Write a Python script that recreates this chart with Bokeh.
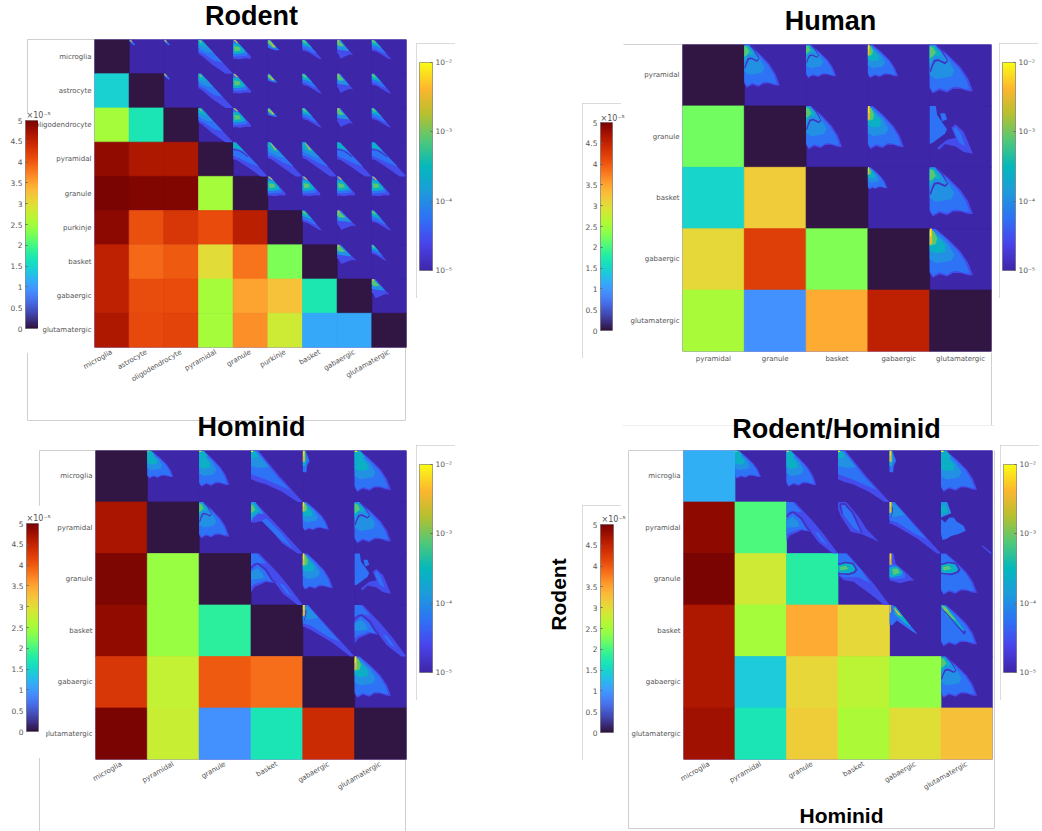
import math
import numpy as np
from bokeh.core.properties import value
from bokeh.embed import file_html
from bokeh.layouts import column
from bokeh.models import ColumnDataSource, FixedTicker, LinearColorMapper, Range1d
from bokeh.palettes import Turbo256
from bokeh.plotting import figure
from bokeh.resources import INLINE

# ---------- data: labels ----------
RODENT_LABELS = ["microglia", "astrocyte", "oligodendrocyte", "pyramidal", "granule",
                 "purkinje", "basket", "gabaergic", "glutamatergic"]
HUMAN_LABELS = ["pyramidal", "granule", "basket", "gabaergic", "glutamatergic"]
HOMINID_LABELS = ["microglia", "pyramidal", "granule", "basket", "gabaergic", "glutamatergic"]

# ---------- data: lower triangle values (x 1e-5) ----------
RODENT_VALUES = [
    [0.03],
    [1.45, 0.03],
    [2.50, 1.68, 0.03],
    [4.85, 4.65, 4.65, 0.03],
    [5.00, 4.95, 4.95, 2.50, 0.03],
    [4.90, 4.07, 4.30, 4.12, 4.57, 0.03],
    [4.55, 3.89, 4.00, 3.00, 3.82, 2.27, 0.03],
    [4.55, 4.10, 4.12, 2.50, 3.50, 3.25, 1.70, 0.03],
    [4.65, 4.13, 4.17, 2.50, 3.65, 2.82, 1.10, 1.10, 0.03],
]
HUMAN_VALUES = [
    [0.03],
    [2.22, 0.03],
    [1.50, 3.17, 0.03],
    [3.03, 4.22, 2.30, 0.03],
    [2.55, 0.93, 3.45, 4.55, 0.03],
]
HOMINID_VALUES = [
    [0.03],
    [4.70, 0.03],
    [4.97, 2.43, 0.03],
    [4.85, 2.43, 1.85, 0.03],
    [4.30, 2.75, 4.00, 3.85, 0.03],
    [5.00, 2.78, 0.93, 1.68, 4.42, 0.03],
]
CROSS_VALUES = [
    [1.17],
    [4.87, 2.05],
    [5.00, 2.85, 1.80],
    [4.65, 2.50, 3.45, 3.03],
    [4.65, 1.40, 3.05, 2.68, 2.40],
    [4.75, 1.68, 3.15, 2.56, 2.97, 3.28],
]

# ---------- data: density outlines inside a cell, (log10 level, outline) ----------
B, M, C, T, G, O, Y, D = -4.55, -4.25, -3.98, -3.6, -3.1, -2.5, -2.1, -4.85

TINY = [(M, [(0, 0), (.05, 0), (.18, .16), (.13, .17), (0, .05)]),
        (O, [(0, 0), (.04, 0), (.1, .08), (.07, .08)])]
LONG = [(B, [(0, 0), (.08, 0), (1, 1), (.78, 1), (.4, .74), (.12, .5), (0, .42)]),
        (M, [(0, 0), (.08, 0), (.7, .68), (.45, .62), (.15, .42), (0, .36)]),
        (C, [(0, 0), (.08, 0), (.42, .38), (.25, .38), (.08, .3), (0, .25)]),
        (T, [(0, 0), (.06, 0), (.25, .22), (.1, .2), (0, .15)]),
        (O, [(.01, .01), (.05, .03), (.1, .1), (.07, .1)])]
LONG_BRIGHT = [(B, [(0, 0), (.08, 0), (1, 1), (.8, 1), (.4, .72), (.1, .5), (0, .46)]),
               (M, [(0, 0), (.08, 0), (.75, .72), (.5, .62), (.12, .42), (0, .38)]),
               (C, [(0, 0), (.08, 0), (.5, .46), (.3, .42), (.05, .3), (0, .26)]),
               (T, [(0, 0), (.08, .02), (.32, .3), (.15, .26), (0, .15)]),
               (O, [(.06, .02), (.1, .04), (.26, .24), (.2, .22)])]
LONG_CUT = [(B, [(0, 0), (.08, 0), (1, 1), (.8, 1), (.4, .72), (.1, .52), (0, .5)]),
            (M, [(0, 0), (.08, 0), (.75, .72), (.5, .62), (.12, .45), (0, .4)]),
            (T, [(0, 0), (.08, .02), (.3, .24), (.15, .2), (0, .16)]),
            (D, [(0, .2), (.15, .22), (.3, .3), (.45, .42), (.43, .44), (.28, .33), (.15, .25), (0, .23)])]
BLOB = [(B, [(0, 0), (.06, 0), (.52, .5), (.5, .56), (.35, .55), (.2, .58), (.05, .56), (0, .58)]),
        (M, [(0, 0), (.06, 0), (.42, .42), (.38, .48), (.1, .5), (0, .5)]),
        (T, [(0, .12), (.15, .12), (.3, .28), (.35, .38), (.15, .42), (0, .42)]),
        (G, [(.02, .2), (.18, .22), (.22, .32), (.05, .35)]),
        (O, [(0, 0), (.05, .01), (.15, .1), (.1, .1)])]
WEDGE = [(M, [(0, 0), (.05, 0), (.28, .26), (.18, .26), (0, .2)]),
         (G, [(0, .02), (.05, .02), (.2, .2), (.12, .2), (0, .1)]),
         (O, [(.03, .03), (.06, .05), (.18, .18), (.14, .18)])]
MID = [(B, [(0, 0), (.07, 0), (.56, .58), (.48, .56), (.15, .36), (0, .32)]),
       (M, [(0, 0), (.07, 0), (.42, .42), (.3, .38), (.1, .28), (0, .26)]),
       (T, [(0, 0), (.07, .02), (.28, .25), (.14, .2), (0, .16)]),
       (G, [(0, 0), (.05, .02), (.14, .12), (.05, .1), (0, .05)])]
MID_FRAY = [(B, [(0, 0), (.08, 0), (.46, .46), (.36, .44), (.22, .5), (.1, .56), (.03, .42), (0, .4)]),
            (C, [(0, 0), (.08, 0), (.35, .34), (.2, .32), (.05, .3), (0, .28)]),
            (G, [(0, .03), (.07, .05), (.2, .2), (.06, .2), (0, .15)]),
            (O, [(0, 0), (.04, 0), (.07, .06), (.03, .06)])]

FAN_OUT = [(0, 0), (.1, 0), (.3, .17), (.5, .37), (.62, .55), (.7, .76), (.62, .76), (.5, .72),
           (.38, .72), (.28, .78), (.16, .74), (.05, .8), (0, .72)]
FAN_MID = [(0, .01), (.09, .01), (.29, .19), (.47, .38), (.58, .55), (.65, .73), (.56, .72), (.45, .69),
           (.38, .69), (.28, .75), (.16, .71), (.05, .77), (0, .69)]
FAN_CORE = [(0, .03), (.1, .06), (.3, .25), (.4, .42), (.35, .52), (.2, .55), (.1, .56), (0, .5)]
FAN_HOT = [(0, .06), (.08, .07), (.25, .27), (.25, .38), (.1, .4), (0, .36)]
CURVE = [(0, .43), (.03, .34), (.07, .25), (.14, .24), (.25, .29), (.28, .26), (.18, .1), (.1, .02),
         (.115, .015), (.2, .09), (.3, .27), (.25, .32), (.14, .27), (.09, .28), (.05, .36), (.02, .45)]

FAN_STRIP = [(B, FAN_OUT), (M, FAN_MID), (C, FAN_CORE), (T, FAN_HOT),
             (G, [(0, .03), (.07, .04), (.12, .15), (.1, .25), (0, .28)]),
             (O, [(0, 0), (.04, 0), (.04, .24), (0, .26)]),
             (Y, [(.005, 0), (.025, 0), (.025, .12), (.005, .13)])]
FAN_TIP = [(B, FAN_OUT), (M, FAN_MID), (C, FAN_CORE), (T, FAN_HOT),
           (T, [(0, 0), (.1, 0), (.2, .12), (0, .2)]),
           (Y, [(0, 0), (.05, 0), (.05, .03), (0, .03)])]
FAN_LINE = [(B, FAN_OUT), (M, FAN_MID), (C, FAN_CORE),
            (C, [(0, 0), (.08, 0), (.22, .14), (.25, .24), (.12, .2), (.05, .28), (0, .36)]),
            (T, [(0, .02), (.07, .03), (.17, .14), (.16, .2), (.08, .18), (.03, .26), (0, .3)]),
            (G, [(0, .03), (.06, .05), (.1, .14), (.04, .2), (0, .22)]),
            (D, CURVE)]
BROKEN = [(M, [(0, 0), (.1, 0), (.12, .15), (.28, .38), (.25, .45), (.05, .6), (0, .62)]),
          (M, [(.17, .12), (.25, .12), (.28, .22), (.2, .25)]),
          (B, [(.35, .35), (.42, .3), (.55, .42), (.7, .78), (.55, .75), (.42, .66), (.25, .62),
               (.15, .72), (.12, .68), (.28, .55), (.42, .52)]),
          (M, [(.38, .38), (.42, .34), (.5, .44), (.58, .66), (.48, .6), (.42, .48)])]
LONG_WIDE = [(B, [(0, 0), (.14, 0), (.55, .5), (1, 1), (.9, 1), (.6, .8), (.3, .66), (.1, .6), (0, .56)]),
             (M, [(0, 0), (.12, 0), (.5, .5), (.75, .76), (.55, .68), (.25, .55), (0, .46)]),
             (C, [(0, 0), (.1, .02), (.35, .32), (.15, .34), (0, .3)]),
             (T, [(0, 0), (.07, 0), (.14, .12), (0, .16)]),
             (Y, [(0, 0), (.04, 0), (.04, .03), (0, .03)])]
STRIP = [(M, [(0, 0), (.05, 0), (.1, .12), (.13, .2), (.08, .3), (.07, .42), (0, .42)]),
         (T, [(0, 0), (.05, 0), (.07, .2), (.04, .3), (0, .3)]),
         (O, [(0, 0), (.04, 0), (.04, .22), (0, .22)]),
         (Y, [(.01, 0), (.025, 0), (.025, .1), (.01, .1)])]
LONG_LINE = [(B, [(0, 0), (.08, 0), (.55, .5), (1, 1), (.9, 1), (.6, .8), (.25, .36), (.1, .4), (0, .4)]),
             (M, [(.2, .36), (.3, .32), (.6, .62), (.8, .9), (.55, .72)]),
             (C, [(0, 0), (.08, 0), (.25, .24), (.15, .22), (.05, .3), (0, .38)]),
             (T, [(0, .02), (.06, .03), (.16, .18), (.06, .24), (0, .32)]),
             (G, [(0, .05), (.05, .07), (.08, .16), (0, .22)])]
LONG_STRIP = [(B, [(0, 0), (.1, 0), (.55, .5), (1, 1), (.92, 1), (.55, .72), (.15, .48), (.03, .42), (0, .42)]),
              (M, [(0, 0), (.1, 0), (.5, .48), (.72, .72), (.5, .62), (.15, .4), (0, .36)]),
              (C, [(0, 0), (.1, .04), (.3, .25), (.12, .28), (0, .28)]),
              (O, [(0, 0), (.04, 0), (.04, .2), (0, .22)]),
              (Y, [(.01, 0), (.025, 0), (.025, .08), (.01, .09)]),
              (D, [(.05, .1), (.07, .1), (.06, .22), (.03, .3), (.02, .29), (.045, .22)])]
ARCH = [(B, [(0, 0), (.16, 0), (.5, .36), (.72, .62), (1, 1), (.9, 1), (.62, .78), (.47, .58),
             (.3, .55), (.18, .6), (.07, .65), (0, .75)]),
        (M, [(0, 0), (.12, 0), (.3, .2), (.1, .18), (0, .24)]),
        (M, [(0, .32), (.12, .22), (.28, .32), (.4, .56), (.28, .52), (.18, .56), (.05, .6), (0, .65)]),
        (M, [(.55, .58), (.62, .6), (.8, .84), (.68, .76)]),
        (C, [(0, .36), (.12, .28), (.22, .38), (.25, .48), (.05, .5), (0, .5)]),
        (D, [(0, .26), (.06, .2), (.14, .18), (.3, .3), (.42, .5), (.48, .56), (.46, .58), (.38, .5),
             (.27, .33), (.13, .21), (.05, .24), (0, .3)])]
LOOP = [(B, [(0, 0), (.16, 0), (.4, .28), (.55, .52), (.8, .78), (.68, .72), (.45, .62), (.25, .58), (.06, .28), (0, .14)]),
        (M, [(.03, .04), (.14, .04), (.25, .15), (.35, .38), (.48, .6), (.3, .5), (.1, .24)]),
        (D, [(.03, .03), (.14, .02), (.3, .2), (.48, .6), (.45, .6), (.27, .22), (.13, .06), (.06, .06), (.1, .24),
             (.08, .24), (.03, .1)])]
HOOK = [(C, [(0, 0), (.12, 0), (.2, .22), (0, .3)]),
        (T, [(0, .05), (.08, .06), (.14, .2), (0, .25)]),
        (M, [(0, .33), (.08, .4), (.16, .3), (.25, .3), (.3, .38), (.44, .46), (.48, .56), (.34, .62),
             (.2, .66), (.1, .72), (.03, .74), (0, .62)]),
        (B, [(.78, .85), (.82, .85), (1, 1), (.95, 1)])]
ARCH_RING = [(B, [(0, 0), (.18, 0), (.5, .36), (.72, .62), (1, 1), (.9, 1), (.62, .78), (.3, .55), (.12, .52), (0, .42)]),
             (M, [(0, 0), (.16, 0), (.45, .32), (.62, .58), (.4, .46), (.1, .46), (0, .36)]),
             (T, [(0, .22), (.15, .18), (.3, .22), (.34, .34), (.22, .38), (.05, .38), (0, .34)]),
             (G, [(.03, .26), (.15, .24), (.2, .3), (.05, .33)]),
             (D, [(0, .2), (.15, .16), (.3, .18), (.38, .32), (.33, .38), (.2, .42), (0, .4), (0, .38), (.2, .39),
                  (.31, .35), (.34, .3), (.28, .21), (.15, .19), (0, .23)])]
BLOB_STRIP = [(B, [(0, 0), (.08, 0), (.12, .2), (.3, .35), (.48, .52), (.35, .54), (.2, .58), (0, .52)]),
              (M, [(0, .2), (.1, .22), (.3, .4), (.3, .48), (.1, .5), (0, .48)]),
              (T, [(0, .27), (.15, .25), (.26, .36), (.22, .42), (.05, .46), (0, .45)]),
              (G, [(.05, .3), (.15, .29), (.2, .37), (.08, .42)]),
              (O, [(0, 0), (.04, 0), (.04, .22), (0, .22)]),
              (Y, [(.01, 0), (.025, 0), (.025, .1), (.01, .1)])]
ARCH_FAN = [(B, FAN_OUT), (M, FAN_MID),
            (T, [(0, .22), (.15, .18), (.28, .22), (.34, .34), (.22, .38), (.05, .38), (0, .34)]),
            (G, [(.03, .26), (.15, .24), (.2, .3), (.05, .33)]),
            (D, [(0, .2), (.15, .16), (.3, .18), (.38, .32), (.33, .38), (.2, .42), (0, .4), (0, .38), (.2, .39),
                 (.31, .35), (.34, .3), (.28, .21), (.15, .19), (0, .23)])]
NEEDLE = [(M, [(0, 0), (.07, 0), (.55, .57), (.45, .52), (.14, .3), (.05, .4), (0, .38)]),
          (T, [(.08, .03), (.12, .03), (.42, .42), (.28, .34), (.1, .18)]),
          (O, [(.08, .06), (.11, .07), (.25, .24), (.16, .18)]),
          (O, [(0, 0), (.03, 0), (.03, .14), (0, .16)])]
NEEDLE_FAN = [(B, FAN_OUT), (M, FAN_MID),
              (T, [(0, 0), (.1, .02), (.46, .5), (.38, .46), (.1, .2)]),
              (G, [(.01, .01), (.08, .04), (.3, .3), (.2, .26), (.05, .1)]),
              (O, [(.02, .01), (.07, .05), (.16, .14), (.1, .1)]),
              (D, [(0, .05), (.02, .08), (.45, .58), (.47, .56), (.48, .5), (.44, .5), (.44, .53), (.1, .14)])]

SHAPES = dict(tiny=TINY, long=LONG, long_bright=LONG_BRIGHT, long_cut=LONG_CUT, blob=BLOB, wedge=WEDGE,
              mid=MID, fray=MID_FRAY, fan_strip=FAN_STRIP, fan_tip=FAN_TIP, fan_line=FAN_LINE,
              broken=BROKEN, long_wide=LONG_WIDE, strip=STRIP, long_line=LONG_LINE, long_strip=LONG_STRIP,
              arch=ARCH, loop=LOOP, hook=HOOK, arch_ring=ARCH_RING, blob_strip=BLOB_STRIP,
              arch_fan=ARCH_FAN, needle=NEEDLE, needle_fan=NEEDLE_FAN)

# ---------- data: which outline sits in which upper cell: (row, col, shape, width, height) ----------
RODENT_CELLS = [
    (0, 1, "tiny", 1, 1), (0, 2, "tiny", 1, 1), (0, 3, "long", 1, 1), (0, 4, "blob", 1, 1),
    (0, 5, "wedge", 1.2, 1.2), (0, 6, "mid", 1, 1), (0, 7, "fray", 1, 1), (0, 8, "mid", 1, 1),
    (1, 2, "tiny", 1, 1), (1, 3, "long", 1, 1), (1, 4, "blob", 1, 1), (1, 5, "wedge", 1, 1),
    (1, 6, "mid", 1, 1), (1, 7, "fray", 1, 1), (1, 8, "mid", 1, 1),
    (2, 3, "long", 1, 1), (2, 4, "blob", 1, 1), (2, 5, "wedge", 1, 1), (2, 6, "mid", 1, 1),
    (2, 7, "fray", 1, 1), (2, 8, "mid", 1, 1),
    (3, 4, "long_cut", 1, 1), (3, 5, "long_bright", 1, 1), (3, 6, "long_bright", 1, 1),
    (3, 7, "long_cut", 1, 1), (3, 8, "long_cut", 1, 1),
    (4, 5, "blob", 1, 1), (4, 6, "blob", 1, 1), (4, 7, "blob", 1, 1), (4, 8, "blob", 1, 1),
    (5, 6, "mid", 1, 1), (5, 7, "fray", 1.2, 1), (5, 8, "mid", 1, 1),
    (6, 7, "fray", 1.2, 1), (6, 8, "mid", .75, .8),
    (7, 8, "fray", 1.1, 1),
]
HUMAN_CELLS = [
    (0, 1, "fan_line", .82, .88), (0, 2, "fan_line", .7, .68), (0, 3, "fan_strip", .7, .68), (0, 4, "fan_line", 1, 1),
    (1, 2, "fan_line", .83, .88), (1, 3, "fan_strip", .83, .88), (1, 4, "broken", 1, 1),
    (2, 3, "fan_strip", .45, .45), (2, 4, "fan_line", 1, 1),
    (3, 4, "fan_strip", 1, 1),
]
HOMINID_CELLS = [
    (0, 1, "fan_tip", .72, .68), (0, 2, "fan_tip", .83, .88), (0, 3, "long_wide", 1, 1), (0, 4, "strip", 1, 1),
    (0, 5, "fan_tip", 1, 1),
    (1, 2, "fan_line", .83, .88), (1, 3, "long_line", 1, 1), (1, 4, "fan_strip", .72, .7), (1, 5, "fan_line", 1, 1),
    (2, 3, "arch", 1, 1), (2, 4, "fan_strip", .83, .88), (2, 5, "broken", 1, 1),
    (3, 4, "long_strip", 1, 1), (3, 5, "arch", 1, 1),
    (4, 5, "fan_strip", 1, 1),
]
CROSS_CELLS = [
    (0, 1, "fan_tip", .72, .68), (0, 2, "fan_tip", .83, .88), (0, 3, "long_wide", 1, 1), (0, 4, "strip", 1, 1),
    (0, 5, "fan_tip", 1, 1),
    (1, 2, "arch", 1, 1), (1, 3, "loop", 1, 1), (1, 4, "long_strip", 1, 1), (1, 5, "hook", 1, 1),
    (2, 3, "arch_ring", 1, 1), (2, 4, "blob_strip", 1, 1), (2, 5, "arch_fan", 1, 1),
    (3, 4, "needle", 1, 1), (3, 5, "needle_fan", 1, 1),
    (4, 5, "fan_line", 1, 1),
]

LINEAR_TICKS = [0, .5, 1, 1.5, 2, 2.5, 3, 3.5, 4, 4.5, 5]
LINEAR_LABELS = ["0", "0.5", "1", "1.5", "2", "2.5", "3", "3.5", "4", "4.5", "5"]
LOG_TICKS = [-5, -4, -3, -2]
LOG_LABELS = ["10⁻⁵", "10⁻⁴", "10⁻³", "10⁻²"]

# ---------- colour scales ----------
PARULA_STOPS = ["#3e26a8", "#4a43ea", "#2e72f5", "#1e9bdc", "#05b8bc", "#50c878", "#b5c030", "#fdb62e", "#f9fb15"]


def ramp(stops, n=256):
    rgb = np.array([[int(s[i:i + 2], 16) for i in (1, 3, 5)] for s in stops], dtype=float)
    t = np.linspace(0, len(stops) - 1, n)
    chan = [np.interp(t, np.arange(len(stops)), rgb[:, k]) for k in range(3)]
    return ["#%02x%02x%02x" % (round(a), round(b), round(c)) for a, b, c in zip(*chan)]


PARULA = ramp(PARULA_STOPS)
linear_mapper = LinearColorMapper(palette=Turbo256, low=0, high=5)
log_mapper = LinearColorMapper(palette=PARULA, low=-5, high=-2)

FONT = "DejaVu Sans"
TEXT = "#555555"
RULE = "#cfcfcf"
FAINT = "#efefef"


def place(fig, x, y, z):
    fig.styles = {"position": "absolute", "left": f"{x}px", "top": f"{y}px", "z-index": str(z)}
    return fig


def heatmap(ylabels, xlabels, values, cells, px, py, pw, ph, rotate, z, left=76, bottom=70):
    n = len(values)
    p = figure(width=pw + left + 2, height=ph + bottom + 1, x_range=Range1d(0, n), y_range=Range1d(n, 0),
               output_backend="svg", toolbar_location=None, min_border_left=left, min_border_right=2,
               min_border_top=1, min_border_bottom=bottom, outline_line_color=None, frame_align=False,
               background_fill_color=PARULA[0], border_fill_color=None)
    p.grid.visible = False
    ticks = [i + .5 for i in range(n)]
    for axis, labels in ((p.xaxis[0], xlabels), (p.yaxis[0], ylabels)):
        axis.ticker = FixedTicker(ticks=ticks)
        axis.major_label_overrides = {t: s for t, s in zip(ticks, labels)}
        axis.major_tick_line_color = None
        axis.major_tick_out = 0
        axis.major_tick_in = 0
        axis.minor_tick_line_color = None
        axis.minor_tick_out = 0
        axis.axis_line_color = None
        axis.major_label_text_font = FONT
        axis.major_label_text_font_size = "7px"
        axis.major_label_text_color = TEXT
        axis.major_label_standoff = 3
    if rotate:
        p.xaxis[0].major_label_orientation = math.radians(30)
        p.xaxis[0].major_label_standoff = 4

    low = dict(x=[], y=[], v=[])
    up = dict(x=[], y=[], v=[])
    for r in range(n):
        for c in range(n):
            if c < len(values[r]):
                low["x"].append(c + .5); low["y"].append(r + .5); low["v"].append(values[r][c])
            else:
                up["x"].append(c + .5); up["y"].append(r + .5); up["v"].append(-5)
    cmap_low = {"field": "v", "transform": linear_mapper}
    cmap_up = {"field": "v", "transform": log_mapper}
    p.rect("x", "y", 1, 1, source=ColumnDataSource(up), fill_color=cmap_up, line_color=cmap_up, line_width=.7)
    p.rect("x", "y", 1, 1, source=ColumnDataSource(low), fill_color=cmap_low, line_color=cmap_low, line_width=.7)

    xs, ys, lv = [], [], []
    for r, c, name, sx, sy in cells:
        for level, outline in SHAPES[name]:
            xs.append([c + sx * a for a, _ in outline])
            ys.append([r + sy * b for _, b in outline])
            lv.append(level)
    p.patches("xs", "ys", source=ColumnDataSource(dict(xs=xs, ys=ys, v=lv)),
              fill_color={"field": "v", "transform": log_mapper}, line_color=None)
    return place(p, px - left, py - 1, z)


def colorbar(ticks, labels, mapper, low, high, box, bar, side, border, z):
    bx, by, bw, bh = box
    x0, y0, w, h = bar
    p = figure(width=bw, height=bh, x_range=Range1d(0, 1), y_range=Range1d(low, high), y_axis_location=side,
               output_backend="svg", toolbar_location=None, outline_line_color="#8a8a8a", frame_align=False,
               min_border_left=x0 - bx, min_border_right=bx + bw - x0 - w,
               min_border_top=y0 - by, min_border_bottom=by + bh - y0 - h,
               background_fill_color="white", border_fill_color="white")
    p.grid.visible = False
    p.xaxis.visible = False
    axis = p.yaxis[0]
    axis.ticker = FixedTicker(ticks=ticks)
    axis.major_label_overrides = {t: s for t, s in zip(ticks, labels)}
    axis.axis_line_color = None
    axis.minor_tick_line_color = None
    axis.major_tick_in = 2
    axis.major_tick_out = 0
    axis.major_tick_line_color = "#666666"
    axis.major_label_standoff = 3
    axis.major_label_text_font = FONT
    axis.major_label_text_font_size = "7.5px"
    axis.major_label_text_color = TEXT
    gradient = np.linspace(low, high, 256).reshape(256, 1)
    p.image(image=[gradient], x=0, y=low, dw=1, dh=high - low, color_mapper=mapper)
    place(p, bx, by, z)
    if border:
        p.styles = {**p.styles, "outline": f"1px solid {RULE}", "outline-offset": "-1px"}
    return p


def page_layer(z):
    p = figure(width=1042, height=831, x_range=Range1d(0, 1042), y_range=Range1d(831, 0),
               output_backend="svg", toolbar_location=None, min_border=0, outline_line_color=None, frame_align=False,
               background_fill_color=None, border_fill_color=None, x_axis_location=None, y_axis_location=None)
    p.grid.visible = False
    return place(p, 0, 0, z)


# ---------- page rules below everything ----------
base = page_layer(1)
RULES_X = [[27, 27], [27, 95], [27, 405], [405, 405], [623, 682], [991, 991], [39, 39], [39, 96],
           [405, 405], [628, 628], [628, 684], [628, 994], [994, 994]]
RULES_Y = [[39, 420], [39, 39], [420, 420], [347, 420], [44, 44], [352, 425], [450, 831], [450, 450],
           [759, 831], [450, 828], [450, 450], [828, 828], [450, 828]]
base.multi_line(RULES_X, RULES_Y, line_color=RULE, line_width=1)
base.line([622, 994], [425, 425], line_color=FAINT, line_width=1)

# ---------- heat maps ----------
figs = [base]
figs.append(heatmap(RODENT_LABELS, RODENT_LABELS, RODENT_VALUES, RODENT_CELLS, 94, 39, 312, 308, True, 2))
figs.append(heatmap(HUMAN_LABELS, HUMAN_LABELS, HUMAN_VALUES, HUMAN_CELLS, 682, 44, 309, 307, False, 2))
figs.append(heatmap(HOMINID_LABELS, HOMINID_LABELS, HOMINID_VALUES, HOMINID_CELLS, 95, 450, 311, 309, True, 2))
figs.append(heatmap(HOMINID_LABELS, HOMINID_LABELS, CROSS_VALUES, CROSS_CELLS, 683, 450, 309, 309, True, 2))

# ---------- colour bars ----------
figs.append(colorbar(LINEAR_TICKS, LINEAR_LABELS, linear_mapper, 0, 5, (0, 113, 38, 240), (25, 120, 13, 208), "left", False, 3))
figs.append(colorbar(LOG_TICKS, LOG_LABELS, log_mapper, -5, -2, (416, 43, 39, 255), (419, 62, 13, 208), "right", True, 3))
figs.append(colorbar(LINEAR_TICKS, LINEAR_LABELS, linear_mapper, 0, 5, (582, 103, 39, 255), (599, 122, 13, 208), "left", True, 3))
figs.append(colorbar(LOG_TICKS, LOG_LABELS, log_mapper, -5, -2, (999, 43, 39, 255), (1002, 62, 13, 208), "right", True, 3))
figs.append(colorbar(LINEAR_TICKS, LINEAR_LABELS, linear_mapper, 0, 5, (8, 505, 38, 253), (25, 523, 13, 208), "left", False, 3))
figs.append(colorbar(LOG_TICKS, LOG_LABELS, log_mapper, -5, -2, (416, 445, 39, 255), (419, 464, 13, 208), "right", True, 3))
figs.append(colorbar(LINEAR_TICKS, LINEAR_LABELS, linear_mapper, 0, 5, (582, 505, 39, 255), (600, 524, 13, 208), "left", True, 3))
figs.append(colorbar(LOG_TICKS, LOG_LABELS, log_mapper, -5, -2, (1000, 445, 39, 255), (1003, 464, 13, 208), "right", True, 3))

# ---------- titles and exponent notes above everything ----------
top = page_layer(4)
TITLES = ["Rodent", "Human", "Hominid", "Rodent/Hominid"]
TITLE_X = [251, 830, 251, 836]
TITLE_Y = [15, 20, 426, 428]
top.text(TITLE_X, TITLE_Y, text=TITLES, text_font=value("Liberation Sans"), text_font_style="bold",
         text_font_size="27px", text_align="center", text_baseline="middle", text_color="#000000")
AXIS_NAMES = ["Hominid", "Rodent"]
top.text([841, 558], [815, 594], text=AXIS_NAMES, angle=[0, math.pi / 2], text_font=value("Liberation Sans"),
         text_font_style="bold", text_font_size="21px", text_align="center", text_baseline="middle",
         text_color="#000000")
EXPONENT = ["×10⁻⁵"] * 4
top.text([26, 600, 26, 601], [115, 118, 518, 519], text=EXPONENT, text_font=value(FONT),
         text_font_size="8px", text_baseline="middle", text_color=TEXT)
figs.append(top)

page = column(*figs, width=1042, height=831, styles={"position": "absolute", "left": "0px", "top": "0px"})
open("out.html", "w").write(file_html(page, INLINE))
